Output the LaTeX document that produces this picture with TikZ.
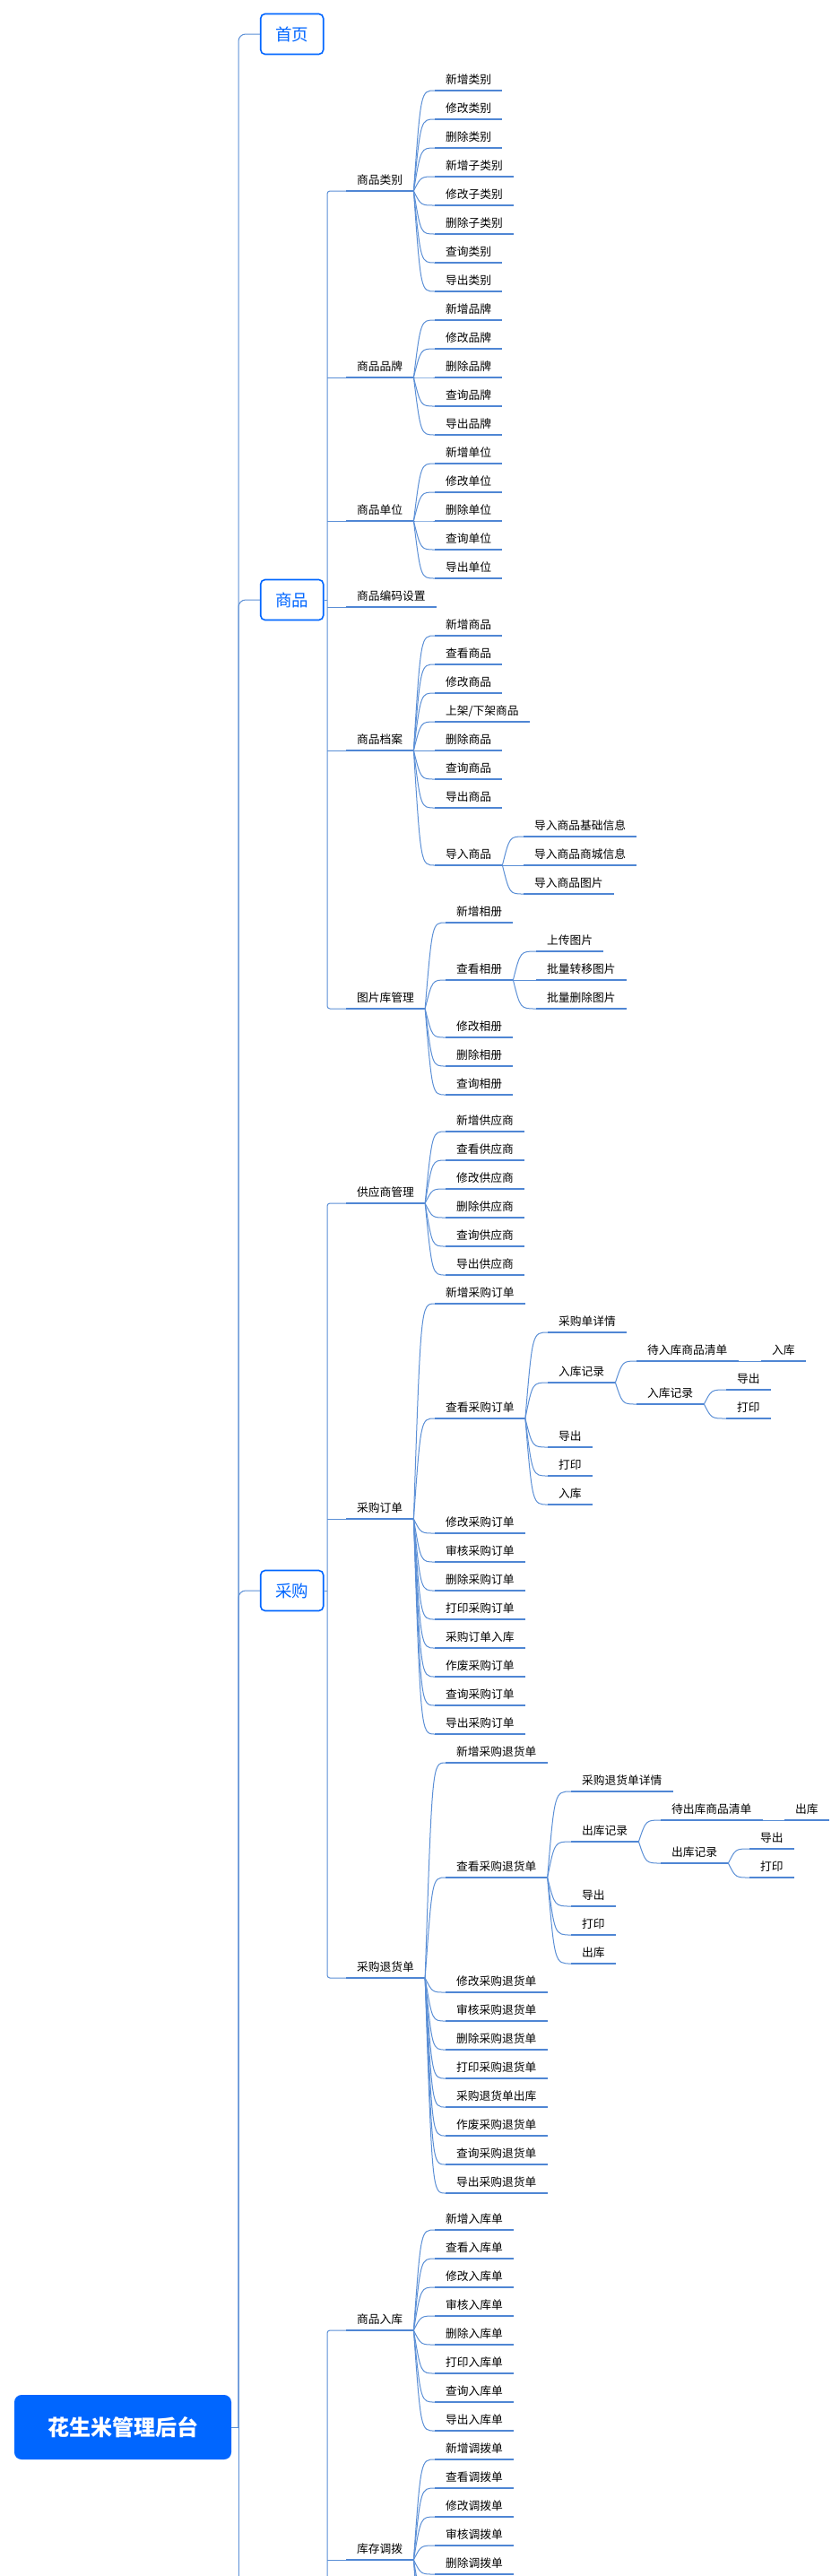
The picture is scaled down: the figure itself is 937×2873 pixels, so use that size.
\documentclass[tikz,border=0pt]{standalone}
\usepackage{fontspec}
\newfontfamily\cjk{Noto Sans CJK SC}
\definecolor{lnblue}{RGB}{91,143,214}
\definecolor{ulblue}{RGB}{79,134,212}
\definecolor{hdblue}{RGB}{0,102,255}
\newcommand{\brleaf}[4]{\node[leaf] (#1) at (#2,#3) {#4};
  \draw[uline] (#1.south west) -- (#1.south east);}
\newcommand{\brgroup}[3]{\path (#1.south east) ++(8,0) coordinate (#1-c);
  \foreach \y/\lbl [count=\i] in {#3} {\brleaf{#1-\i}{#2}{\y}{\lbl}
    \draw[conn] (#1.south east) .. controls (#1-c |- #1-\i.south west) and (#1-c |- #1-\i.south west) .. (#1-\i.south west);}}
\begin{document}
\begin{tikzpicture}[x=1pt, y=-1pt,
    conn/.style={lnblue, line width=1pt},
    uline/.style={ulblue, line width=2.3pt},
    leaf/.style={anchor=south west, inner xsep=12pt, inner ysep=6pt, text height=9.5pt, text depth=1.5pt, font=\cjk\fontsize{12.75}{14}\selectfont},
    topic/.style={draw=hdblue, text=hdblue, line width=1.6pt, rounded corners=5pt, minimum width=70pt, minimum height=45pt, font=\cjk\fontsize{18.5}{20}\selectfont},
    rootbox/.style={fill=hdblue, text=white, rounded corners=8pt, minimum width=242pt, minimum height=72pt, font=\cjk\bfseries\fontsize{24}{28}\selectfont}]
    \path[use as bounding box, fill=white] (0,0) rectangle (937,2873);
    \coordinate (mx) at (266,0);
    \coordinate (sx) at (365,0);
    \coordinate (mlEnd) at (266,2900);
    \coordinate (kcEnd) at (365,2900);

    \node[rootbox] (root) at (137,2707) {花生米管理后台};
    \node[topic] (sy) at (325.7,38) {首页};
    \node[topic] (sp) at (325.7,669) {商品};
    \node[topic] (cg) at (325.7,1774) {采购};
    \draw[conn] (root.east) -- (root.east -| mx) -- (mlEnd);
    \draw[conn, rounded corners=8pt] (root.east -| mx) |- (sy.west);
    \draw[conn, rounded corners=8pt] (root.east -| mx) |- (sp.west);
    \draw[conn, rounded corners=8pt] (root.east -| mx) |- (cg.west);

    % 商品
    \brleaf{spLb}{386}{213}{商品类别}
    \brgroup{spLb}{485}{101/新增类别, 133/修改类别, 165/删除类别, 197/新增子类别, 229/修改子类别, 261/删除子类别, 293/查询类别, 325/导出类别}
    \brleaf{spPp}{386}{421}{商品品牌}
    \brgroup{spPp}{485}{357/新增品牌, 389/修改品牌, 421/删除品牌, 453/查询品牌, 485/导出品牌}
    \brleaf{spDw}{386}{581}{商品单位}
    \brgroup{spDw}{485}{517/新增单位, 549/修改单位, 581/删除单位, 613/查询单位, 645/导出单位}
    \brleaf{spBm}{386}{677}{商品编码设置}
    \brleaf{spDa}{386}{837}{商品档案}
    \brgroup{spDa}{485}{709/新增商品, 741/查看商品, 773/修改商品, 805/{上架/下架商品}, 837/删除商品, 869/查询商品, 901/导出商品, 965/导入商品}
    \brgroup{spDa-8}{584}{933/导入商品基础信息, 965/导入商品商城信息, 997/导入商品图片}
    \brleaf{spTk}{386}{1125}{图片库管理}
    \brgroup{spTk}{497}{1029/新增相册, 1093/查看相册, 1157/修改相册, 1189/删除相册, 1221/查询相册}
    \brgroup{spTk-2}{598}{1061/上传图片, 1093/批量转移图片, 1125/批量删除图片}
    \draw[conn, rounded corners=3pt] (spLb.south west) -- (spLb.south west -| sx) -- (spTk.south west -| sx) -- (spTk.south west);
    \foreach \n in {spPp,spDw,spBm,spDa} \draw[conn] (\n.south west -| sx) -- (\n.south west);
    \draw[conn] (sp.east) -- (sp.east -| sx);

    % 采购
    \brleaf{cgGy}{386}{1342}{供应商管理}
    \brgroup{cgGy}{497}{1262/新增供应商, 1294/查看供应商, 1326/修改供应商, 1358/删除供应商, 1390/查询供应商, 1422/导出供应商}
    \brleaf{cgDd}{386}{1694}{采购订单}
    \brgroup{cgDd}{485}{1454/新增采购订单, 1582/查看采购订单, 1710/修改采购订单, 1742/审核采购订单, 1774/删除采购订单, 1806/打印采购订单, 1838/采购订单入库, 1870/作废采购订单, 1902/查询采购订单, 1934/导出采购订单}
    \brgroup{cgDd-2}{611}{1486/采购单详情, 1542/入库记录, 1614/导出, 1646/打印, 1678/入库}
    \brgroup{cgDd-2-2}{710}{1518/待入库商品清单, 1566/入库记录}
    \brgroup{cgDd-2-2-1}{849}{1518/入库}
    \brgroup{cgDd-2-2-2}{810}{1550/导出, 1582/打印}
    \brleaf{cgTh}{386}{2206}{采购退货单}
    \brgroup{cgTh}{497}{1966/新增采购退货单, 2094/查看采购退货单, 2222/修改采购退货单, 2254/审核采购退货单, 2286/删除采购退货单, 2318/打印采购退货单, 2350/采购退货单出库, 2382/作废采购退货单, 2414/查询采购退货单, 2446/导出采购退货单}
    \brgroup{cgTh-2}{637}{1998/采购退货单详情, 2054/出库记录, 2126/导出, 2158/打印, 2190/出库}
    \brgroup{cgTh-2-2}{737}{2030/待出库商品清单, 2078/出库记录}
    \brgroup{cgTh-2-2-1}{875}{2030/出库}
    \brgroup{cgTh-2-2-2}{836}{2062/导出, 2094/打印}
    \draw[conn, rounded corners=3pt] (cgGy.south west) -- (cgGy.south west -| sx) -- (cgTh.south west -| sx) -- (cgTh.south west);
    \draw[conn] (cgDd.south west -| sx) -- (cgDd.south west);
    \draw[conn] (cg.east) -- (cg.east -| sx);

    % 库存
    \brleaf{kcRk}{386}{2599}{商品入库}
    \brgroup{kcRk}{485}{2487/新增入库单, 2519/查看入库单, 2551/修改入库单, 2583/审核入库单, 2615/删除入库单, 2647/打印入库单, 2679/查询入库单, 2711/导出入库单}
    \brleaf{kcDb}{386}{2855}{库存调拨}
    \brgroup{kcDb}{485}{2743/新增调拨单, 2775/查看调拨单, 2807/修改调拨单, 2839/审核调拨单, 2871/删除调拨单}
    \foreach \y [count=\i from 6] in {2903,2935,2967} {
        \coordinate (kcDb-\i) at (485,\y);
        \draw[conn] (kcDb.south east) .. controls (kcDb-c |- kcDb-\i) and (kcDb-c |- kcDb-\i) .. (kcDb-\i);
    }
    \draw[conn, rounded corners=3pt] (kcRk.south west) -- (kcRk.south west -| kcEnd) -- (kcEnd);
    \draw[conn] (kcDb.south west -| kcEnd) -- (kcDb.south west);
\end{tikzpicture}
\end{document}
